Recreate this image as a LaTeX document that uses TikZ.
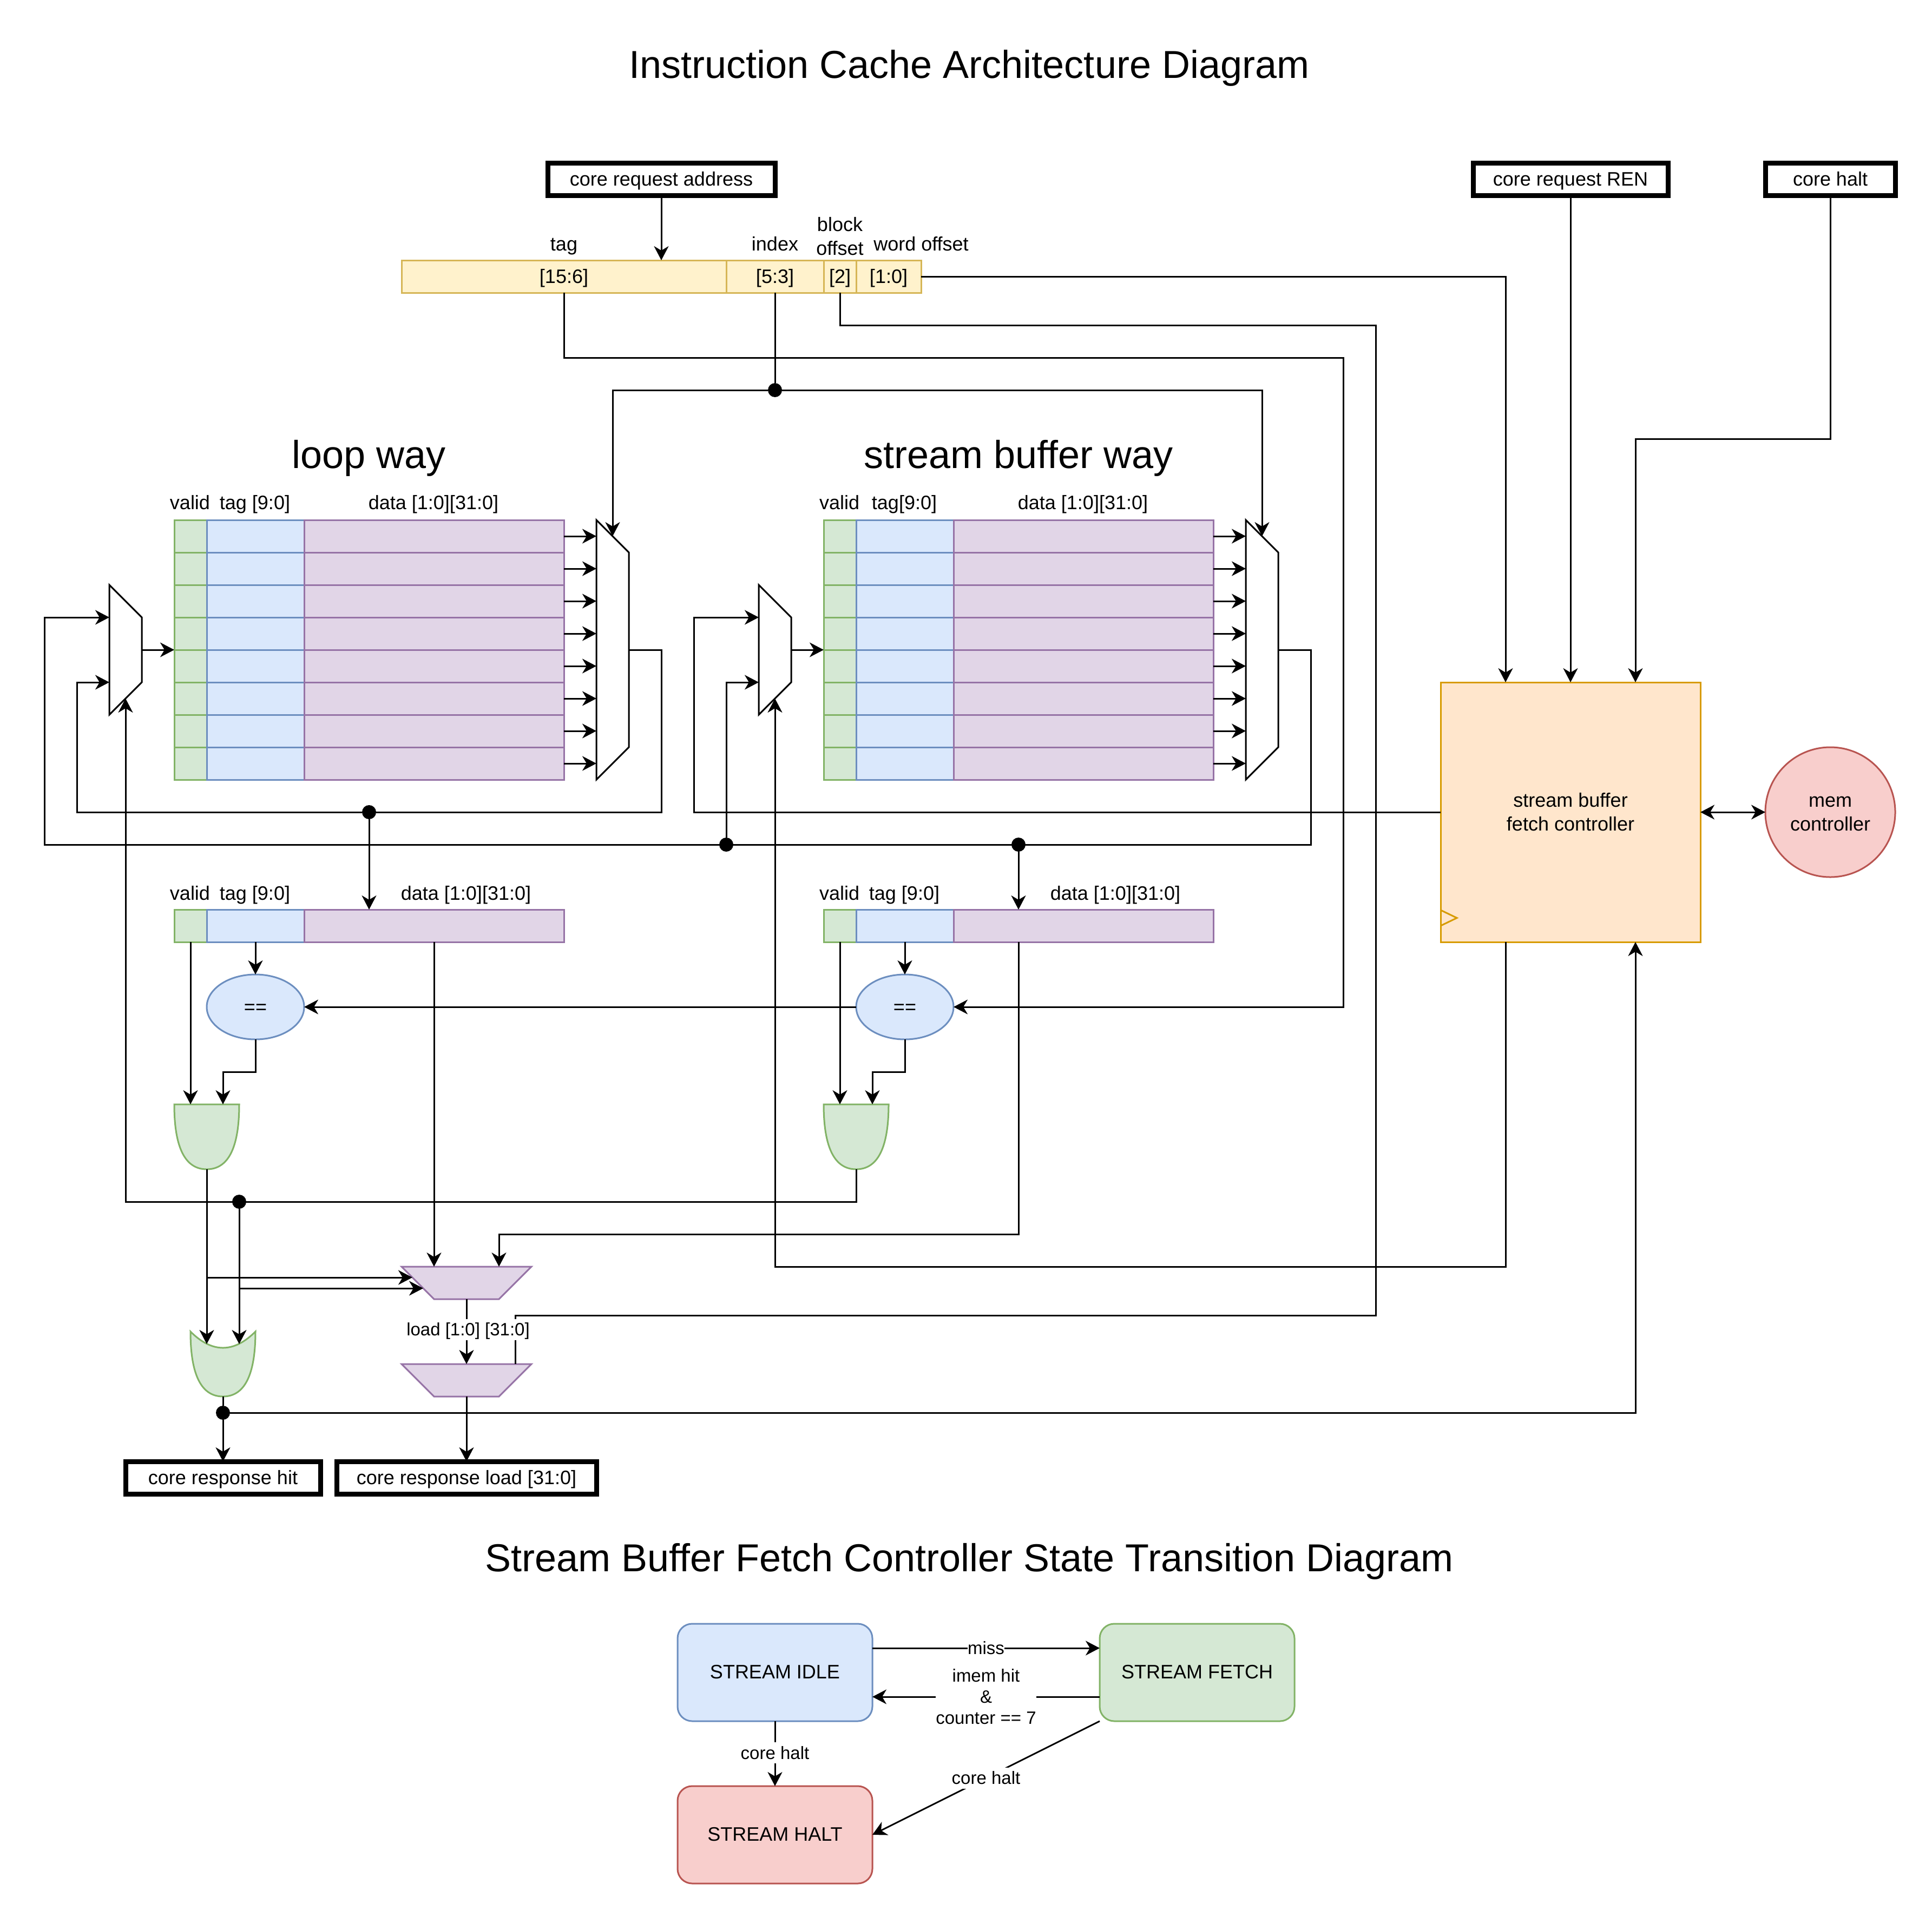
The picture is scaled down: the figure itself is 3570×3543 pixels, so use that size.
\documentclass[tikz,border=0pt]{standalone}
\usepackage{fontspec}
\setmainfont{Liberation Sans}
\usetikzlibrary{arrows.meta,shapes.geometric}
\newcommand\fnorm{\fontsize{36}{44}\selectfont}
\newcommand\fsml{\fontsize{33}{39}\selectfont}
\newcommand\fbig{\fontsize{72}{86}\selectfont}
\newcommand\topst{\rule{0pt}{32.6pt}}
\newcommand\botst{\rule[-7.6pt]{0pt}{7.6pt}}
\definecolor{gf}{HTML}{D5E8D4}\definecolor{gs}{HTML}{82B366}
\definecolor{bf}{HTML}{DAE8FC}\definecolor{bs}{HTML}{6C8EBF}
\definecolor{pf}{HTML}{E1D5E7}\definecolor{ps}{HTML}{9673A6}
\definecolor{yf}{HTML}{FFF2CC}\definecolor{ys}{HTML}{D6B656}
\definecolor{of}{HTML}{FFE6CC}\definecolor{os}{HTML}{D79B00}
\definecolor{rf}{HTML}{F8CECC}\definecolor{rs}{HTML}{B85450}
\tikzset{
  wire/.style={line width=3pt,draw=black,line join=miter},
  arr/.style={wire,-{Stealth[length=26pt,width=27pt,inset=8pt]}},
  darr/.style={wire,{Stealth[length=26pt,width=27pt,inset=8pt]}-{Stealth[length=26pt,width=27pt,inset=8pt]}},
  nrm/.style={font=\fnorm,text height=32.6pt,text depth=7.6pt},
  cell/.style={draw,line width=3pt,inner sep=0pt,outer sep=0pt,anchor=north west,minimum height=60pt,nrm},
  vcell/.style={cell,fill=gf,draw=gs,minimum width=60pt},
  tcell/.style={cell,fill=bf,draw=bs,minimum width=180pt},
  dcell/.style={cell,fill=pf,draw=ps,minimum width=480pt},
  ycell/.style={cell,fill=yf,draw=ys},
  port/.style={draw=black,fill=white,line width=9pt,inner sep=0pt,outer sep=0pt,anchor=north west,minimum height=60pt,nrm},
  lab/.style={inner sep=0pt,nrm},
  lab2/.style={inner sep=0pt,font=\fnorm,align=center},
  sml/.style={inner sep=0pt,font=\fsml,align=center,fill=white},
  sml1/.style={sml,text height=31pt,text depth=8pt},
  big/.style={inner sep=0pt,font=\fbig,text height=65.2pt,text depth=15.3pt},
  jdot/.style={circle,fill=black,inner sep=0pt,outer sep=0pt,minimum size=26pt},
  eqn/.style={ellipse,draw=bs,fill=bf,line width=3pt,inner sep=0pt,outer sep=0pt,minimum width=180pt,minimum height=120pt,nrm},
  state/.style={draw,rounded corners=27pt,line width=3pt,inner sep=0pt,outer sep=0pt,anchor=north west,minimum width=360pt,minimum height=180pt,nrm,text depth=10.6pt},
}
\begin{document}
\begin{tikzpicture}[x=1pt,y=-1pt]
\path[fill=white,use as bounding box] (0,0) rectangle (3570,3543);

% titles
\node[big] (title1) at (1791,120) {Instruction Cache Architecture Diagram};
\node[big] (title2) at (1791,2880) {Stream Buffer Fetch Controller State Transition Diagram};
\node[big] (tloop) at (682,841) {loop way};
\node[big] (tstream) at (1882,841) {stream buffer way};

% ports
\node[port,minimum width=420pt] (reqaddr) at (1012,301) {core request address};
\node[port,minimum width=360pt] (reqren) at (2722,301) {core request REN};
\node[port,minimum width=240pt] (halt) at (3262,301) {core halt};
\node[port,minimum width=360pt] (resphit) at (232,2701) {core response hit};
\node[port,minimum width=480pt] (respload) at (622,2701) {core response load [31:0]};

% address fields
\node[ycell,minimum width=600pt] (ftag) at (742,481) {[15:6]};
\node[ycell,minimum width=180pt] (fidx) at (1342,481) {[5:3]};
\node[ycell,minimum width=60pt] (fblk) at (1522,481) {[2]};
\node[ycell,minimum width=120pt] (fword) at (1582,481) {[1:0]};
\node[lab] (ltag) at (1042,451) {tag};
\node[lab] (lidx) at (1432,451) {index};
\node[lab2] (lblk) at (1552,437) {\topst block\\offset\botst};
\node[lab] (lwrd) at (1702,451) {word offset};

% ways
\foreach \k in {0,...,7}{
  \pgfmathtruncatemacro{\yy}{961+60*\k}
  \pgfmathtruncatemacro{\ym}{991+60*\k}
  \node[vcell] (lv\k) at (322,\yy) {};
  \node[tcell] (lt\k) at (382,\yy) {};
  \node[dcell] (ld\k) at (562,\yy) {};
  \node[vcell] (sv\k) at (1522,\yy) {};
  \node[tcell] (st\k) at (1582,\yy) {};
  \node[dcell] (sd\k) at (1762,\yy) {};
  \coordinate (lin\k) at (1102,\ym);
  \coordinate (sin\k) at (2302,\ym);
  \draw[arr] (ld\k.east) -- (lin\k);
  \draw[arr] (sd\k.east) -- (sin\k);
}
\node[lab] (l1) at (351,929) {valid};
\node[lab] (l2) at (471,929) {tag [9:0]};
\node[lab] (l3) at (801,929) {data [1:0][31:0]};
\node[lab] (l4) at (1551,929) {valid};
\node[lab] (l5) at (1671,929) {tag[9:0]};
\node[lab] (l6) at (2001,929) {data [1:0][31:0]};
\node[lab] (l7) at (351,1651) {valid};
\node[lab] (l8) at (471,1651) {tag [9:0]};
\node[lab] (l9) at (861,1651) {data [1:0][31:0]};
\node[lab] (l10) at (1551,1651) {valid};
\node[lab] (l11) at (1671,1651) {tag [9:0]};
\node[lab] (l12) at (2061,1651) {data [1:0][31:0]};

% hit rows
\node[vcell] (hv1) at (322,1681) {};
\node[tcell] (ht1) at (382,1681) {};
\node[dcell] (hd1) at (562,1681) {};
\node[vcell] (hv2) at (1522,1681) {};
\node[tcell] (ht2) at (1582,1681) {};
\node[dcell] (hd2) at (1762,1681) {};

% muxes
\draw[wire,fill=white] (1102,961) -- (1162,1021) -- (1162,1381) -- (1102,1441) -- cycle;
\draw[wire,fill=white] (2302,961) -- (2362,1021) -- (2362,1381) -- (2302,1441) -- cycle;
\draw[wire,fill=white] (202,1081) -- (262,1141) -- (262,1261) -- (202,1321) -- cycle;
\draw[wire,fill=white] (1402,1081) -- (1462,1141) -- (1462,1261) -- (1402,1321) -- cycle;
\coordinate (lmuxout) at (1162,1201); \coordinate (smuxout) at (2362,1201);
\coordinate (lselt) at (1132,991); \coordinate (sselt) at (2332,991);
\coordinate (lwout) at (262,1201); \coordinate (swout) at (1462,1201);
\coordinate (lwa) at (202,1141); \coordinate (lwb) at (202,1261);
\coordinate (swa) at (1402,1141); \coordinate (swb) at (1402,1261);
\coordinate (lwsel) at (232,1291); \coordinate (swsel) at (1432,1291);

% equality, gates
\node[eqn] (eq1) at (472,1861) {==};
\node[eqn] (eq2) at (1672,1861) {==};
\draw[line width=3pt,draw=gs,fill=gf] (322,2041) -- (442,2041) .. controls (442,2121) and (422,2161) .. (382,2161) .. controls (342,2161) and (322,2121) .. (322,2041) -- cycle;
\draw[line width=3pt,draw=gs,fill=gf] (1522,2041) -- (1642,2041) .. controls (1642,2121) and (1622,2161) .. (1582,2161) .. controls (1542,2161) and (1522,2121) .. (1522,2041) -- cycle;
\draw[line width=3pt,draw=gs,fill=gf] (352,2461) .. controls (392,2501) and (432,2501) .. (472,2461) .. controls (472,2541) and (452,2581) .. (412,2581) .. controls (372,2581) and (352,2541) .. (352,2461) -- cycle;
\coordinate (and1in1) at (352,2041); \coordinate (and1in2) at (412,2041); \coordinate (and1out) at (382,2161);
\coordinate (and2in1) at (1552,2041); \coordinate (and2in2) at (1612,2041); \coordinate (and2out) at (1582,2161);
\coordinate (orin1) at (382,2484); \coordinate (orin2) at (442,2484); \coordinate (orout) at (412,2581);

% output muxes
\draw[line width=3pt,draw=ps,fill=pf] (742,2341) -- (982,2341) -- (922,2401) -- (802,2401) -- cycle;
\draw[line width=3pt,draw=ps,fill=pf] (742,2521) -- (982,2521) -- (922,2581) -- (802,2581) -- cycle;
\coordinate (m1a) at (802,2341); \coordinate (m1b) at (922,2341); \coordinate (m1c) at (762,2361); \coordinate (m1d) at (782,2381); \coordinate (m1o) at (862,2401);
\coordinate (m2a) at (862,2521); \coordinate (m2s) at (952,2521); \coordinate (m2o) at (862,2581);

% controller
\node[draw=os,fill=of,line width=3pt,inner sep=0pt,outer sep=0pt,minimum width=480pt,minimum height=480pt,font=\fnorm,align=center] (ctrl) at (2902,1501) {\topst stream buffer\\fetch controller\botst};
\draw[line width=3pt,draw=os] (2662,1682) -- (2692,1696.5) -- (2662,1711);
\node[circle,draw=rs,fill=rf,line width=3pt,inner sep=0pt,outer sep=0pt,minimum size=240pt,font=\fnorm,align=center] (mem) at (3382,1501) {\topst mem\\controller\botst};
\coordinate (c1) at (2782,1261); \coordinate (c2) at (3022,1261);
\coordinate (c3) at (2782,1741); \coordinate (c4) at (3022,1741);

% junctions
\node[jdot] (didx) at (1432,721) {};
\node[jdot] (dl) at (682,1501) {};
\node[jdot] (ds1) at (1342,1561) {};
\node[jdot] (ds2) at (1882,1561) {};
\node[jdot] (dh) at (442,2221) {};
\node[jdot] (dor) at (412,2611) {};

% address wiring
\coordinate (barin) at (1222,481);
\draw[arr] (reqaddr.south) -- (barin);
\coordinate (tg1) at (2482,661);
\coordinate (tg2) at (2482,1861);
\draw[arr] (ftag.south) |- (tg1) -- (tg2) -- (eq2.east);
\draw[arr] (eq2.west) -- (eq1.east);
\draw[wire] (fidx.south) -- (didx);
\draw[arr] (didx) -| (lselt);
\draw[arr] (didx) -| (sselt);
\coordinate (bk1) at (2542,601); \coordinate (bk2) at (2542,2431); \coordinate (bk3) at (952,2431);
\draw[wire] (fblk.south) |- (bk1) -- (bk2) -- (bk3) -- (m2s);
\draw[arr] (fword.east) -| (c1);
\draw[arr] (reqren.south) -- (c1 -| reqren.south) ;
\coordinate (h1) at (3382,811); \coordinate (h2) at (3022,811);
\draw[arr] (halt.south) -- (h1) -- (h2) -- (c2);

% way loops
\coordinate (a1) at (1222,1201); \coordinate (a2) at (1222,1501); \coordinate (a3) at (142,1501); \coordinate (a4) at (142,1261);
\draw[wire] (lmuxout) -- (a1) -- (a2) -- (dl);
\draw[arr] (dl) -- (a3) -- (a4) -- (lwb);
\coordinate (b1) at (2422,1201); \coordinate (b2) at (2422,1561); \coordinate (b3) at (82,1561); \coordinate (b4) at (82,1141);
\draw[arr] (smuxout) -- (b1) -- (b2) -- (b3) -- (b4) -- (lwa);
\coordinate (e1) at (1282,1501); \coordinate (e2) at (1282,1141);
\draw[arr] (ctrl.west) -- (e1) -- (e2) -- (swa);
\draw[arr] (ds1) |- (swb);
\draw[arr] (lwout) -- (lv4.north west);
\draw[arr] (swout) -- (sv4.north west);
\coordinate (hl) at (682,1681); \coordinate (hs) at (1882,1681);
\draw[arr] (dl) -- (hl);
\draw[arr] (ds2) -- (hs);
\coordinate (f1) at (2782,2341); \coordinate (f2) at (1432,2341);
\draw[arr] (c3) -- (f1) -- (f2) -- (swsel);
\coordinate (g1) at (1582,2221); \coordinate (g2) at (232,2221);
\draw[arr] (and2out) -- (g1) -- (g2) -- (lwsel);

% lower wiring
\coordinate (v1t) at (352,1741); \coordinate (v2t) at (1552,1741);
\coordinate (t1t) at (472,1741); \coordinate (t2t) at (1672,1741);
\coordinate (d1t) at (802,1741); \coordinate (d2t) at (1882,1741);
\draw[arr] (v1t) -- (and1in1);
\draw[arr] (v2t) -- (and2in1);
\draw[arr] (t1t) -- (eq1.north);
\draw[arr] (t2t) -- (eq2.north);
\coordinate (q1) at (472,1981); \coordinate (q2) at (412,1981);
\draw[arr] (eq1.south) -- (q1) -- (q2) -- (and1in2);
\coordinate (r1) at (1672,1981); \coordinate (r2) at (1612,1981);
\draw[arr] (eq2.south) -- (r1) -- (r2) -- (and2in2);
\draw[arr] (d1t) -- (m1a);
\coordinate (s1) at (1882,2281); \coordinate (s2) at (922,2281);
\draw[arr] (d2t) -- (s1) -- (s2) -- (m1b);
\draw[arr] (and1out) -- (orin1);
\coordinate (u1) at (382,2361); \coordinate (u2) at (442,2381);
\draw[arr] (u1) -- (m1c);
\draw[arr] (dh) -- (orin2);
\draw[arr] (u2) -- (m1d);
\draw[arr] (m1o) -- (m2a);
\draw[arr] (m2o) -- (m2o |- respload.north);
\draw[wire] (orout) -- (dor);
\draw[arr] (dor) -- (dor |- resphit.north);
\coordinate (w1) at (3022,2611);
\draw[arr] (dor) -- (w1) -- (c4);
\draw[darr] (ctrl.east) -- (mem.west);
\node[sml1] (lload) at (865,2457) {load [1:0] [31:0]};

% state diagram
\node[state,draw=bs,fill=bf] (sidle) at (1252,3001) {STREAM IDLE};
\node[state,draw=gs,fill=gf] (sfetch) at (2032,3001) {STREAM FETCH};
\node[state,draw=rs,fill=rf] (shalt) at (1252,3301) {STREAM HALT};
\coordinate (i1) at (1612,3046); \coordinate (i2) at (2032,3046);
\coordinate (i3) at (2032,3136); \coordinate (i4) at (1612,3136);
\coordinate (i5) at (2032,3181); \coordinate (i6) at (1612,3391);
\draw[arr] (i1) -- node[sml1,pos=.5] (lmiss) {miss} (i2);
\draw[arr] (i3) -- node[sml,pos=.5] (limem) {imem hit\\\&\\counter == 7} (i4);
\draw[arr] (sidle.south) -- node[sml1,pos=.49] (lch1) {core halt} (shalt.north);
\draw[arr] (i5) -- node[sml1,pos=.5] (lch2) {core halt} (i6);
\end{tikzpicture}
\end{document}
